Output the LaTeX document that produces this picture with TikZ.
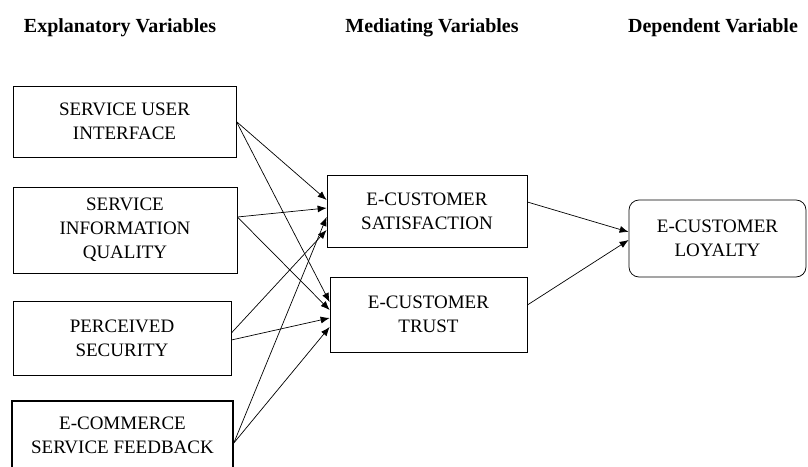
\documentclass[tikz,border=0pt]{standalone}
\usepackage{fontspec}
\setmainfont{Liberation Serif}
\usetikzlibrary{arrows.meta}
\tikzset{
  varbox/.style={draw,line width=0.75pt,align=center,inner sep=2pt,
    font=\fontsize{19}{24}\selectfont},
  headlbl/.style={font=\fontsize{20}{24}\selectfont\bfseries,anchor=base},
  pathlink/.style={line width=0.7pt,-{Latex[length=9pt,width=7pt]}}
}
\begin{document}
\begin{tikzpicture}[x=1pt,y=-1pt]
  \useasboundingbox (0,0) rectangle (808,466);
  % headings
  \node[headlbl] (hexp) at (120,32) {Explanatory Variables};
  \node[headlbl] (hmed) at (432,32) {Mediating Variables};
  \node[headlbl] (hdep) at (713,32) {Dependent Variable};
  % explanatory variables
  \node[varbox,minimum width=223,minimum height=71] (sui) at (124.5,121.5) {SERVICE USER\\INTERFACE};
  \node[varbox,minimum width=224,minimum height=86] (siq) at (125,230) {SERVICE\\INFORMATION\\QUALITY};
  \node[varbox,minimum width=218,minimum height=74] (psec) at (122,338) {PERCEIVED\\SECURITY};
  \node[varbox,line width=1.6pt,minimum width=221,minimum height=68] (esf) at (122.5,435) {E-COMMERCE\\SERVICE FEEDBACK};
  % mediating variables
  \node[varbox,minimum width=200,minimum height=72] (msat) at (427,211) {E-CUSTOMER\\SATISFACTION};
  \node[varbox,minimum width=197,minimum height=75] (mtru) at (428.5,314.5) {E-CUSTOMER\\TRUST};
  % dependent variable
  \node[varbox,rounded corners=10pt,minimum width=177,minimum height=77] (loy) at (717.5,238.5) {E-CUSTOMER\\LOYALTY};
  % paths
  \foreach \src/\ys/\dst/\yd in {sui/0/msat/11, siq/13/msat/3, esf/-8/msat/-6, psec/5/msat/-19,
      sui/0/mtru/12.5, siq/13/mtru/4.5, psec/-2/mtru/-3.5, esf/-8/mtru/-12.5}
    \draw[pathlink] ([yshift=\ys pt]\src.east) -- ([yshift=\yd pt]\dst.west);
  \draw[pathlink] ([yshift=9pt]msat.east) -- ([yshift=6.5pt]loy.west);
  \draw[pathlink] ([yshift=9.5pt]mtru.east) -- ([yshift=-1.5pt]loy.west);
\end{tikzpicture}
\end{document}
